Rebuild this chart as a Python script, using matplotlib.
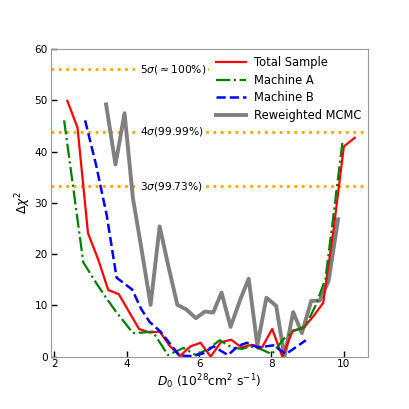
import matplotlib
matplotlib.use("Agg")
import matplotlib.pyplot as plt

# ---- data ----
x_total = [2.36, 2.64, 2.93, 3.21, 3.49, 3.78, 4.06, 4.34, 4.63, 4.91, 5.19, 5.47,
           5.76, 6.04, 6.32, 6.60, 6.89, 7.17, 7.45, 7.74, 8.02, 8.30, 8.59, 8.87,
           9.15, 9.43, 9.72, 10.00, 10.30]
y_total = [49.9, 44.7, 24.1, 19.0, 13.0, 12.2, 8.8, 5.4, 4.7, 4.9, 2.1, 0.1,
           2.0, 2.7, 0.0, 2.8, 3.3, 1.8, 2.3, 1.8, 5.4, 0.0, 5.1, 5.5,
           7.8, 10.5, 25.0, 41.0, 42.7]

x_machA = [2.27, 2.55, 2.80, 3.10, 3.40, 3.70, 3.95, 4.17, 4.44, 4.72, 5.14, 5.57,
           5.91, 6.25, 6.57, 6.90, 7.18, 7.41, 7.69, 8.01, 8.33, 8.61, 8.94, 9.22,
           9.49, 9.72, 9.96]
y_machA = [46.1, 31.5, 18.4, 15.0, 11.8, 8.8, 6.6, 4.6, 4.7, 4.9, 0.3, 1.7,
           0.3, 1.5, 3.2, 1.8, 1.5, 2.0, 1.5, 0.5, 3.4, 5.0, 5.9, 10.0,
           15.1, 28.0, 41.8]

x_machB = [2.85, 3.15, 3.45, 3.72, 4.15, 4.40, 4.63, 4.93, 5.20, 5.46, 5.80, 6.10,
           6.40, 6.80, 7.08, 7.32, 7.62, 8.05, 8.40, 8.95]
y_machB = [46.1, 37.5, 27.5, 15.4, 13.1, 9.3, 6.8, 4.9, 2.5, 0.2, 0.1, 0.6,
           2.0, 0.3, 2.1, 2.7, 1.8, 2.2, 0.5, 3.2]

x_mcmc = [3.43, 3.69, 3.94, 4.17, 4.42, 4.66, 4.91, 5.15, 5.40, 5.65, 5.91, 6.16,
          6.39, 6.62, 6.87, 7.13, 7.37, 7.61, 7.86, 8.13, 8.36, 8.60, 8.84, 9.10,
          9.33, 9.58, 9.84]
y_mcmc = [49.2, 37.5, 47.5, 31.0, 20.5, 10.1, 25.4, 17.7, 10.1, 9.2, 7.5, 8.8,
          8.6, 12.5, 5.8, 11.0, 15.2, 2.2, 11.5, 9.9, 0.0, 8.7, 4.6, 10.9,
          10.9, 14.8, 26.8]

sigma_levels = [33.2, 43.9, 56.1]
sigma_labels = [r"3$\sigma$(99.73%)", r"4$\sigma$(99.99%)", r"5$\sigma$($\approx$100%)"]

# ---- figure ----
fig = plt.figure(figsize=(4.09, 4.09), dpi=100)
ax = fig.add_axes([0.124, 0.128, 0.776, 0.752])

for lvl, lab in zip(sigma_levels, sigma_labels):
    ax.axhline(lvl, color="orange", ls=":", lw=2, zorder=1)
    ax.text(4.37, lvl, lab, fontsize=7.7, va="center", ha="left", zorder=2,
            bbox=dict(facecolor="white", edgecolor="none", pad=1.5))

ax.plot(x_total, y_total, color="red", lw=1.6, label="Total Sample", zorder=4)
ax.plot(x_machA, y_machA, color="green", lw=1.6, ls="-.", label="Machine A", zorder=4)
ax.plot(x_machB, y_machB, color="blue", lw=1.8, ls="--", label="Machine B", zorder=4)
ax.plot(x_mcmc, y_mcmc, color="gray", lw=2.8, label="Reweighted MCMC", zorder=3)

ax.set_xlim(1.9, 10.67)
ax.set_ylim(0, 60)
ax.set_xticks([2, 4, 6, 8, 10])
ax.set_yticks([0, 10, 20, 30, 40, 50, 60])
ax.tick_params(direction="in", length=4, width=1, labelsize=7.6, pad=2)
for sp in ax.spines.values():
    sp.set_color("0.6")

ax.set_xlabel(r"$D_0$ (10$^{28}$cm$^2$ s$^{-1}$)", fontsize=8.8, labelpad=2)
ax.set_ylabel(r"$\Delta\chi^2$", fontsize=8.8, labelpad=1)

leg = ax.legend(loc="upper right", fontsize=8.3, framealpha=1, edgecolor="white",
                fancybox=False, handlelength=2.6, borderaxespad=0.2,
                labelspacing=0.4, handletextpad=0.7)
leg.set_zorder(5)

fig.savefig("out.png", dpi=100)
